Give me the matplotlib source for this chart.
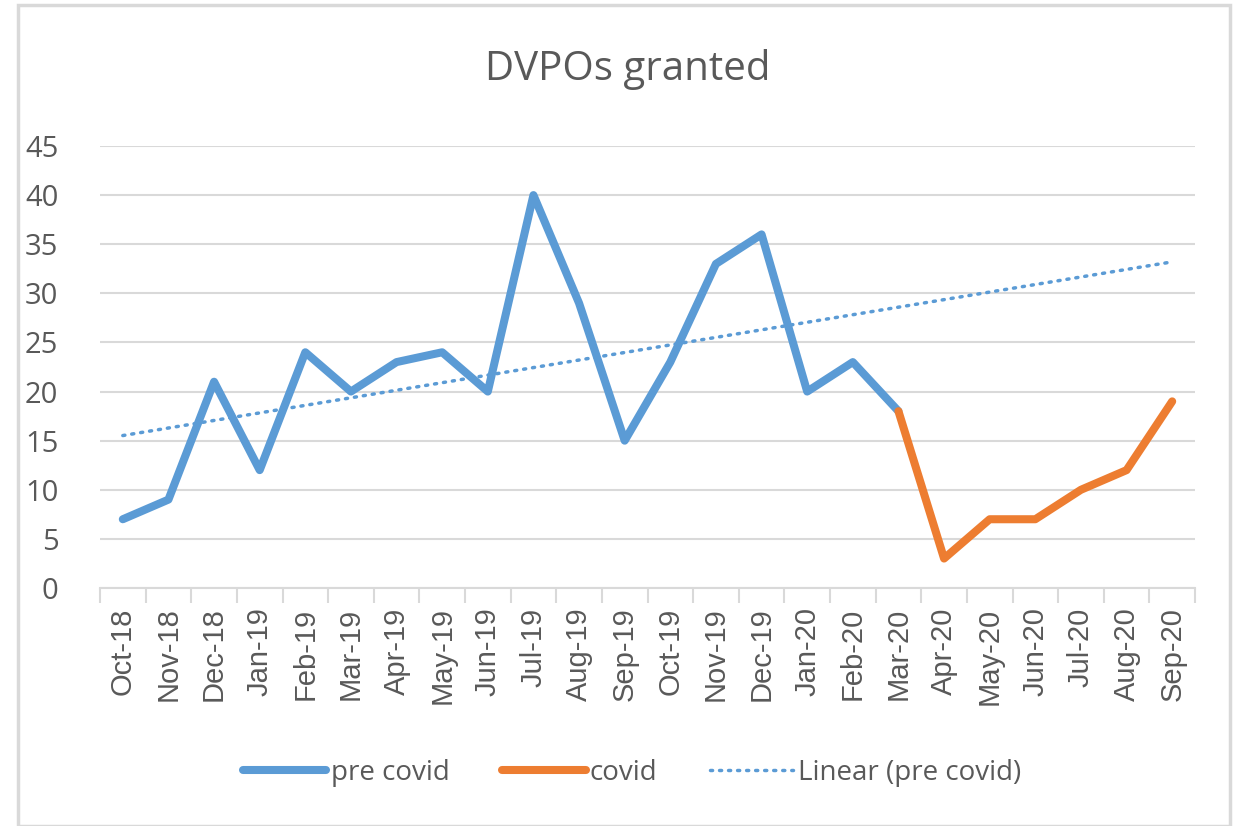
import matplotlib
matplotlib.use('Agg')
import matplotlib.pyplot as plt
from matplotlib.patches import Rectangle
import numpy as np

months = ['Oct-18', 'Nov-18', 'Dec-18', 'Jan-19', 'Feb-19', 'Mar-19', 'Apr-19', 'May-19',
          'Jun-19', 'Jul-19', 'Aug-19', 'Sep-19', 'Oct-19', 'Nov-19', 'Dec-19', 'Jan-20',
          'Feb-20', 'Mar-20', 'Apr-20', 'May-20', 'Jun-20', 'Jul-20', 'Aug-20', 'Sep-20']
pre_covid = [7, 9, 21, 12, 24, 20, 23, 24, 20, 40, 29, 15, 23, 33, 36, 20, 23, 18]
covid = [18, 3, 7, 7, 10, 12, 19]   # Mar-20 .. Sep-20

grey = '#595959'
blue = '#5B9BD5'
orange = '#ED7D31'

fig = plt.figure(figsize=(12.4, 8.26), dpi=100)
fig.patches.append(Rectangle((18/1240, 0), (1230-18)/1240, (826-5)/826,
                             transform=fig.transFigure, fill=False,
                             edgecolor='#D9D9D9', linewidth=2.5))
ax = fig.add_axes([100/1240, 1-588/826, (1195-100)/1240, (588-146)/826])

x_pre = np.arange(len(pre_covid))
x_cov = np.arange(len(pre_covid)-1, len(pre_covid)-1+len(covid))
x_all = np.arange(len(months))

# excel style linear trendline on the pre covid series, forecast to the end
k, b = np.polyfit(x_pre, pre_covid, 1)

ax.plot(x_pre, pre_covid, color=blue, lw=5.8, solid_capstyle='round',
        solid_joinstyle='round', label='pre covid', zorder=3)
ax.plot(x_cov, covid, color=orange, lw=5.8, solid_capstyle='round',
        solid_joinstyle='round', label='covid', zorder=3)
ax.plot(x_all, k*x_all+b, color=blue, lw=2.5, linestyle=(0, (0.6, 2.0)),
        dash_capstyle='round', label='Linear (pre covid)', zorder=2)

ax.set_xlim(-0.5, len(months)-0.5)
ax.set_ylim(0, 45)
ax.set_yticks(range(0, 46, 5))
ax.yaxis.grid(True, color='#D9D9D9', lw=1.5)
ax.set_axisbelow(True)
for s in ['top', 'right', 'left']:
    ax.spines[s].set_visible(False)
ax.spines['bottom'].set_color('#D9D9D9')
ax.spines['bottom'].set_linewidth(1.5)

ax.set_xticks(x_all)
ax.set_xticklabels(months, rotation=90, family='Liberation Sans', fontsize=21, color=grey)
ax.tick_params(axis='x', which='major', length=0, pad=14)
ax.set_xticks(np.arange(-0.5, len(months), 1), minor=True)
ax.tick_params(axis='x', which='minor', length=11, width=1.5, color='#D9D9D9')
ax.tick_params(axis='y', length=0, pad=30, labelsize=21, labelcolor=grey)
for t in ax.get_yticklabels():
    t.set_family('Open Sans')

fig.text(0.506, 1-70/826, 'DVPOs granted', ha='center', va='center',
         family='Open Sans', fontsize=29, color=grey)

leg = fig.legend(loc='center', bbox_to_anchor=(632/1240, 1-773/826), ncol=3,
                 frameon=False, prop={'family': 'Open Sans', 'size': 20},
                 handlelength=3.0, handletextpad=0.15, columnspacing=1.9)
for t in leg.get_texts():
    t.set_color(grey)

fig.savefig('out.png', dpi=100)
